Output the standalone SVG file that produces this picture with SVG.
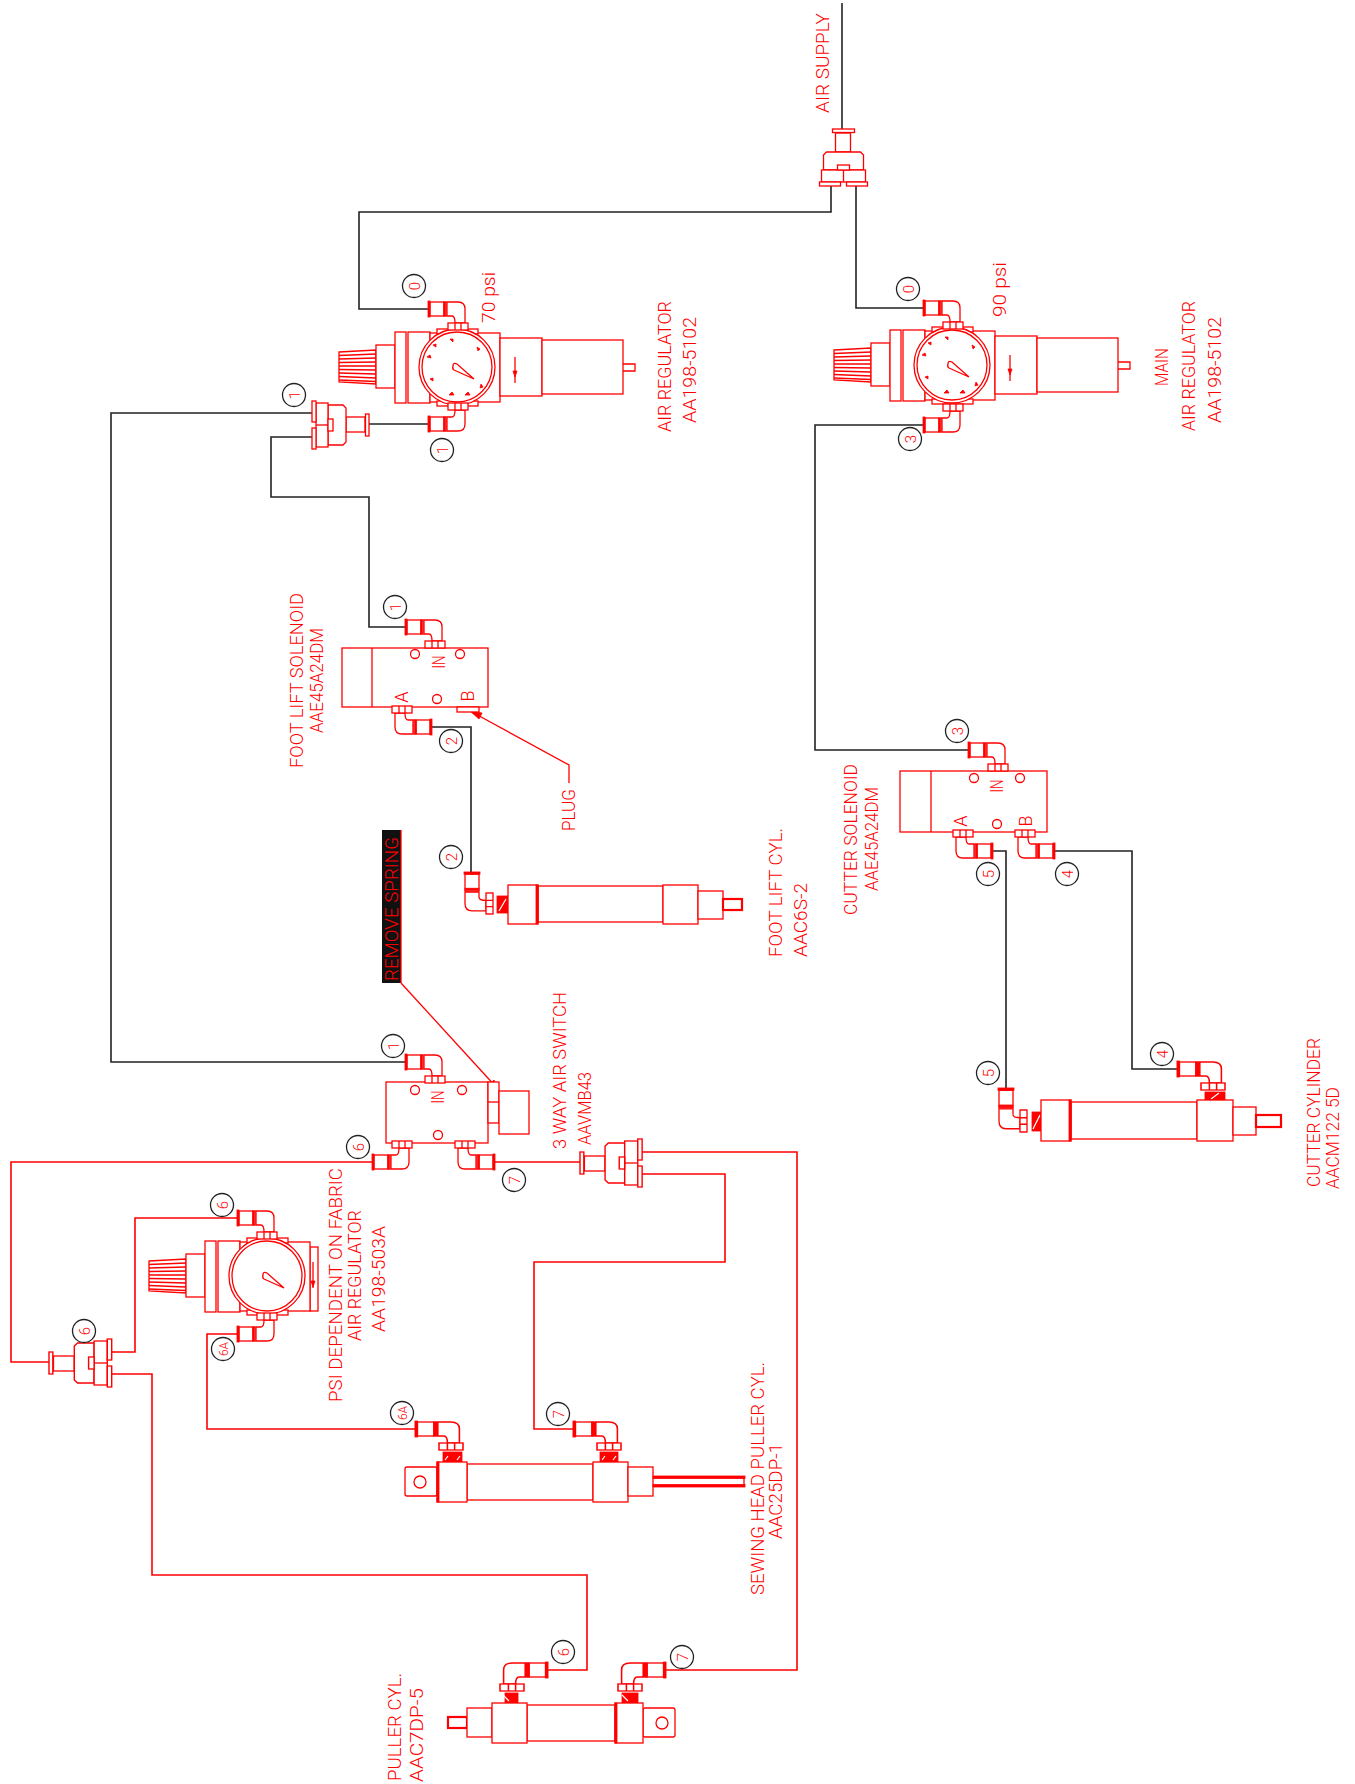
<svg xmlns="http://www.w3.org/2000/svg" xmlns:xlink="http://www.w3.org/1999/xlink" width="1355" height="1784" viewBox="0 0 1355 1784">
<style>
.r{fill:none;stroke:#f00;stroke-width:1.3}
.w{fill:#fff;stroke:#f00;stroke-width:1.3}
.h{fill:#fff;stroke:#f00;stroke-width:2.2}
.f{fill:#f00;stroke:#f00;stroke-width:.8}
.d{fill:none;stroke:#fff;stroke-width:1.2}
.k{fill:none;stroke:#222;stroke-width:1.6}
.c{fill:none;stroke:#f00;stroke-width:1.6}
.b{fill:#fff;stroke:#222;stroke-width:1.3}
text{font-family:Roboto,"Liberation Sans",Arial,sans-serif;font-weight:300;fill:#f00}
.t{font-size:18px}
.n{font-size:15px;text-anchor:middle}
.m{font-size:12px;text-anchor:middle}
.s{font-size:18px;text-anchor:middle}
</style>
<defs>
<g id="elbow">
<path class="w" d="M19,-7H30Q37,-7 37,0V14H27Q27,7 24,7H19Z"/>
<rect class="w" x="20" y="14" width="20" height="7"/>
<path class="r" d="M27,14V21M33,14V21"/>
<rect class="w" x="2" y="-7" width="16" height="14"/>
<rect class="f" x="0" y="-8" width="2" height="16"/>
<rect class="f" x="15.5" y="-7" width="1.6" height="14"/>
</g>
<g id="tee">
<rect class="w" x="-8" y="4" width="15" height="19"/>
<rect class="w" x="-11" y="0" width="22" height="3.5"/>
<path class="w" d="M-17,23H17L20,26V41H-20V26Z"/>
<rect class="w" x="-22" y="41" width="44" height="12"/>
<path class="r" d="M0,41V53"/>
<rect class="w" x="-6" y="36" width="12" height="5"/>
<rect class="w" x="-24" y="53" width="21" height="4"/>
<rect class="w" x="3" y="53" width="21" height="4"/>
</g>
<g id="reghead">
<path class="w" d="M-118,-15L-81,-17V17L-118,15Z"/>
<path class="r" d="M-118,-11.500L-81,-13M-118,-8L-81,-9M-118,-4.500L-81,-5M-118,-1L-81,-1M-118,2.500L-81,3M-118,6L-81,7M-118,9.500L-81,11M-118,13L-81,14.500"/>
<rect class="w" x="-81" y="-22" width="19" height="43"/>
<rect class="w" x="-62" y="-35" width="11" height="71"/>
<rect class="w" x="-49" y="-35" width="22" height="71"/>
<rect class="w" x="-27" y="-34" width="70" height="69"/>
<rect class="w" x="-20" y="-38" width="41" height="5"/>
<rect class="w" x="-20" y="34" width="41" height="5"/>
<circle class="w" cx="0" cy="0" r="38"/>
<circle class="w" cx="0" cy="0" r="35"/>
<path class="r" d="M-4,-1Q-4,-5 0,-3L17,12L-3,3Q-5,2 -4,-1Z"/>
</g>
<g id="regticks">
<path class="f" d="M-30,-10l3,-2l1,3zM-24,-22l3,-1l0,3zM-7,-28l3,0l0,3zM20,-20l3,2l-2,2zM24,17l2,3l-3,1zM-27,12l3,-1l0,3zM-8,28l3,-3l2,3zM8,28l3,-3l2,3z"/>
</g>
<g id="bowl">
<rect class="w" x="43" y="-29" width="42" height="58"/>
<rect class="w" x="85" y="-27" width="81" height="54"/>
<path class="r" d="M166,-3H178V4H166"/>
<path class="r" d="M58,-10V16"/>
<path class="f" d="M56,4H60L58,10Z"/>
</g>
</defs>

<g id="connectors">
<path class="k" d="M842,3V129"/>
<path class="k" d="M831,186V212H359V309H428"/>
<path class="k" d="M856,186V308H923"/>
<path class="k" d="M923,425H815V750H968"/>
<path class="k" d="M369,424H428"/>
<path class="k" d="M312,413H111V1062H405"/>
<path class="k" d="M312,437H271V497H369V627H405"/>
<path class="k" d="M432,727H471V872"/>
<path class="k" d="M993,851H1006V1088"/>
<path class="k" d="M1055,851H1132V1069H1177"/>
<path class="c" d="M372,1162H11V1362H49"/>
<path class="c" d="M495,1162H580"/>
<path class="c" d="M642,1152H797V1670H666"/>
<path class="c" d="M642,1174H725V1262H534V1429H573"/>
<path class="c" d="M112,1352H135V1218H237"/>
<path class="c" d="M112,1374H152V1575H587V1670H548"/>
<path class="c" d="M237,1334H207V1429H415"/>
<path class="r" d="M401,983L497,1088"/>
<path class="f" d="M498,1090L489,1085L494,1080Z"/>
<path class="r" d="M569,783V765L472,712"/>
<path class="f" d="M470,711L482,713L479,719Z"/>
</g>

<g id="air-supply-tee"><use href="#tee" transform="translate(843.5,129)"/></g>

<g id="air-regulator-70">
<use href="#reghead" transform="translate(457,367)"/><use href="#regticks" transform="translate(457,367)"/><use href="#bowl" transform="translate(457,367)"/>
<use href="#elbow" transform="translate(428,309)"/>
<use href="#elbow" transform="translate(428,424) scale(1,-1)"/>
</g>
<g id="main-air-regulator">
<use href="#reghead" transform="translate(952,365)"/><use href="#regticks" transform="translate(952,365)"/><use href="#bowl" transform="translate(952,365)"/>
<use href="#elbow" transform="translate(923,308)"/>
<use href="#elbow" transform="translate(923,425) scale(1,-1)"/>
</g>
<g id="psi-regulator">
<rect class="w" x="310" y="1247" width="8" height="64"/>
<path class="r" d="M313,1262V1288"/><path class="f" d="M311,1281H315L313,1287Z"/>
<use href="#reghead" transform="translate(267,1276)"/>
<use href="#elbow" transform="translate(237,1218)"/>
<use href="#elbow" transform="translate(237,1334) scale(1,-1)"/>
</g>
<g id="tee-foot"><use href="#tee" transform="translate(369,425) rotate(90)"/></g>
<g id="tee-switch"><use href="#tee" transform="translate(580,1163) rotate(-90) scale(1,1.09)"/></g>
<g id="tee-six"><use href="#tee" transform="translate(49,1363) rotate(-90) scale(1,1.1)"/></g>

<g id="foot-lift-solenoid">
<rect class="w" x="342" y="648" width="146" height="59"/>
<path class="r" d="M372,648V707"/>
<circle class="r" cx="415" cy="654" r="4.5"/><circle class="r" cx="460" cy="654" r="4.5"/><circle class="r" cx="437" cy="699" r="4.5"/>
<text class="s" transform="translate(445,662) rotate(-90)" textLength="13" lengthAdjust="spacingAndGlyphs">IN</text>
<text class="s" transform="translate(408,697) rotate(-90)">A</text>
<text class="s" transform="translate(474,696) rotate(-90)">B</text>
<rect class="w" x="457" y="707" width="22" height="5"/>
<use href="#elbow" transform="translate(405,627)"/>
<use href="#elbow" transform="translate(432,727) scale(-1,-1)"/>
</g>
<g id="cutter-solenoid">
<rect class="w" x="900" y="771" width="147" height="61"/>
<path class="r" d="M931,771V832"/>
<circle class="r" cx="974" cy="778" r="4.5"/><circle class="r" cx="1020" cy="778" r="4.5"/><circle class="r" cx="997" cy="824" r="4.5"/>
<text class="s" transform="translate(1003,786) rotate(-90)" textLength="13" lengthAdjust="spacingAndGlyphs">IN</text>
<text class="s" transform="translate(967,821) rotate(-90)">A</text>
<text class="s" transform="translate(1032,821) rotate(-90)">B</text>
<use href="#elbow" transform="translate(968,750)"/>
<use href="#elbow" transform="translate(993,851) scale(-1,-1)"/>
<use href="#elbow" transform="translate(1055,851) scale(-1,-1)"/>
</g>
<g id="three-way-switch">
<rect class="w" x="386" y="1082" width="102" height="61"/>
<circle class="r" cx="415" cy="1090" r="4.5"/><circle class="r" cx="462" cy="1090" r="4.5"/><circle class="r" cx="438" cy="1135" r="4.5"/>
<text class="s" transform="translate(444,1097) rotate(-90)" textLength="13" lengthAdjust="spacingAndGlyphs">IN</text>
<rect class="w" x="488" y="1082" width="11" height="41"/>
<path class="r" d="M488,1102H499"/>
<rect class="w" x="499" y="1091" width="30" height="43"/>
<use href="#elbow" transform="translate(405,1062)"/>
<use href="#elbow" transform="translate(372,1162) scale(1,-1)"/>
<use href="#elbow" transform="translate(495,1162) scale(-1,-1)"/>
</g>

<g id="foot-lift-cylinder">
<rect class="f" x="497" y="896" width="11" height="17"/><path class="d" d="M499,911L506,899"/>
<rect class="w" x="538" y="886" width="125" height="36"/>
<rect class="w" x="508" y="885" width="30" height="39"/>
<rect class="f" x="536" y="885" width="2" height="39"/>
<rect class="w" x="663" y="885" width="35" height="39"/>
<rect class="w" x="698" y="891" width="25" height="28"/>
<rect class="h" x="723" y="899" width="19" height="11"/>
<use href="#elbow" transform="matrix(0,1.05,1,0,472,872)"/>
</g>
<g id="cutter-cylinder">
<rect class="f" x="1032" y="1112" width="9" height="19"/><path class="d" d="M1033,1129L1040,1115"/>
<rect class="f" x="1205" y="1092" width="20" height="8"/><path class="d" d="M1211,1099L1219,1093"/>
<rect class="w" x="1071" y="1102" width="126" height="37"/>
<rect class="w" x="1041" y="1100" width="30" height="41"/>
<rect class="f" x="1069" y="1100" width="2" height="41"/>
<rect class="w" x="1197" y="1100" width="36" height="41"/>
<rect class="w" x="1233" y="1107" width="23" height="28"/>
<rect class="h" x="1256" y="1115" width="25" height="12"/>
<use href="#elbow" transform="matrix(0,1.1,1,0,1006,1088)"/>
<use href="#elbow" transform="matrix(1.2,0,0,1,1177,1069)"/>
</g>
<g id="sewing-head-puller-cylinder">
<rect class="f" x="443" y="1452" width="19" height="10"/><path class="d" d="M445,1460L448,1456M457,1460L460,1456"/>
<rect class="f" x="600" y="1452" width="18" height="10"/><path class="d" d="M602,1460L605,1456M613,1460L616,1456"/>
<rect class="w" x="405" y="1467" width="32" height="29" rx="2"/>
<circle class="r" cx="420" cy="1482" r="6"/>
<rect class="w" x="467" y="1464" width="126" height="36"/>
<rect class="w" x="437" y="1462" width="30" height="40"/>
<rect class="f" x="437" y="1462" width="2" height="40"/>
<rect class="w" x="593" y="1462" width="35" height="40"/>
<rect class="w" x="628" y="1467" width="25" height="29"/>
<rect class="f" x="653" y="1476" width="92" height="2.500"/>
<rect class="f" x="653" y="1484.500" width="92" height="2.500"/>
<path class="r" d="M744,1476V1487"/>
<use href="#elbow" transform="matrix(1.2,0,0,1,415,1429)"/>
<use href="#elbow" transform="matrix(1.2,0,0,1,573,1429)"/>
</g>
<g id="puller-cylinder">
<rect class="f" x="505" y="1693" width="13" height="10"/><path class="d" d="M503,1695L509,1701"/>
<rect class="f" x="622" y="1693" width="16" height="10"/><path class="d" d="M622,1695L628,1701"/>
<rect class="h" x="448" y="1717" width="19" height="11"/>
<rect class="w" x="467" y="1708" width="25" height="29"/>
<rect class="w" x="527" y="1705" width="88" height="36"/>
<rect class="w" x="492" y="1703" width="35" height="40"/>
<rect class="w" x="643" y="1708" width="32" height="29" rx="2"/>
<circle class="r" cx="662" cy="1723" r="6"/>
<rect class="w" x="615" y="1703" width="28" height="40"/>
<rect class="f" x="615" y="1703" width="2" height="40"/>
<use href="#elbow" transform="matrix(-1.2,0,0,1,548,1670)"/>
<use href="#elbow" transform="matrix(-1.2,0,0,1,666,1670)"/>
</g>

<g id="balloons">
<g id="b01"><circle class="b" cx="414" cy="286" r="11.5"/><text class="n" transform="translate(419.500,286) rotate(-90)">0</text></g>
<g id="b02"><circle class="b" cx="442" cy="450" r="11.5"/><text class="n" transform="translate(447.500,450) rotate(-90)">1</text></g>
<g id="b03"><circle class="b" cx="908" cy="289" r="11.5"/><text class="n" transform="translate(913.500,289) rotate(-90)">0</text></g>
<g id="b04"><circle class="b" cx="910" cy="439" r="11.5"/><text class="n" transform="translate(915.500,439) rotate(-90)">3</text></g>
<g id="b05"><circle class="b" cx="294" cy="395" r="11.5"/><text class="n" transform="translate(299.500,395) rotate(-90)">1</text></g>
<g id="b06"><circle class="b" cx="395" cy="607" r="11.5"/><text class="n" transform="translate(400.500,607) rotate(-90)">1</text></g>
<g id="b07"><circle class="b" cx="451" cy="741" r="11.5"/><text class="n" transform="translate(456.500,741) rotate(-90)">2</text></g>
<g id="b08"><circle class="b" cx="451" cy="857" r="11.5"/><text class="n" transform="translate(456.500,857) rotate(-90)">2</text></g>
<g id="b09"><circle class="b" cx="957" cy="731" r="11.5"/><text class="n" transform="translate(962.500,731) rotate(-90)">3</text></g>
<g id="b10"><circle class="b" cx="988" cy="874" r="11.5"/><text class="n" transform="translate(993.500,874) rotate(-90)">5</text></g>
<g id="b11"><circle class="b" cx="1067" cy="874" r="11.5"/><text class="n" transform="translate(1072.500,874) rotate(-90)">4</text></g>
<g id="b12"><circle class="b" cx="1162" cy="1054" r="11.5"/><text class="n" transform="translate(1167.500,1054) rotate(-90)">4</text></g>
<g id="b13"><circle class="b" cx="988" cy="1073" r="11.5"/><text class="n" transform="translate(993.500,1073) rotate(-90)">5</text></g>
<g id="b14"><circle class="b" cx="393" cy="1046" r="11.5"/><text class="n" transform="translate(398.500,1046) rotate(-90)">1</text></g>
<g id="b15"><circle class="b" cx="358" cy="1147" r="11.5"/><text class="n" transform="translate(363.500,1147) rotate(-90)">6</text></g>
<g id="b16"><circle class="b" cx="514" cy="1180" r="11.5"/><text class="n" transform="translate(519.500,1180) rotate(-90)">7</text></g>
<g id="b17"><circle class="b" cx="222" cy="1205" r="11.5"/><text class="n" transform="translate(227.500,1205) rotate(-90)">6</text></g>
<g id="b18"><circle class="b" cx="84" cy="1331" r="11.5"/><text class="n" transform="translate(89.500,1331) rotate(-90)">6</text></g>
<g id="b19"><circle class="b" cx="223" cy="1349" r="11.5"/><text class="m" transform="translate(227.500,1349) rotate(-90)">6A</text></g>
<g id="b20"><circle class="b" cx="402" cy="1413" r="11.5"/><text class="m" transform="translate(406.500,1413) rotate(-90)">6A</text></g>
<g id="b21"><circle class="b" cx="558" cy="1414" r="11.5"/><text class="n" transform="translate(563.500,1414) rotate(-90)">7</text></g>
<g id="b22"><circle class="b" cx="563" cy="1652" r="11.5"/><text class="n" transform="translate(568.500,1652) rotate(-90)">6</text></g>
<g id="b23"><circle class="b" cx="682" cy="1657" r="11.5"/><text class="n" transform="translate(687.500,1657) rotate(-90)">7</text></g>
</g>

<g id="remove-spring">
<rect x="382" y="830" width="19" height="153" fill="#111"/>
<path class="r" d="M401,830V983"/>
<text class="t" transform="translate(398,981) rotate(-90)" textLength="144" lengthAdjust="spacingAndGlyphs">REMOVE SPRING</text>
</g>
<g id="labels">
<text class="t" transform="translate(829,113) rotate(-90)" textLength="100" lengthAdjust="spacingAndGlyphs">AIR SUPPLY</text>
<text class="t" transform="translate(495,323) rotate(-90)" textLength="51" lengthAdjust="spacingAndGlyphs">70 psi</text>
<text class="t" transform="translate(671,432) rotate(-90)" textLength="131" lengthAdjust="spacingAndGlyphs">AIR REGULATOR</text>
<text class="t" transform="translate(696,423) rotate(-90)" textLength="106" lengthAdjust="spacingAndGlyphs">AA198-5102</text>
<text class="t" transform="translate(1006,317) rotate(-90)" textLength="55" lengthAdjust="spacingAndGlyphs">90 psi</text>
<text class="t" transform="translate(1168,386) rotate(-90)" textLength="38" lengthAdjust="spacingAndGlyphs">MAIN</text>
<text class="t" transform="translate(1195,431) rotate(-90)" textLength="130" lengthAdjust="spacingAndGlyphs">AIR REGULATOR</text>
<text class="t" transform="translate(1221,423) rotate(-90)" textLength="106" lengthAdjust="spacingAndGlyphs">AA198-5102</text>
<text class="t" transform="translate(303,768) rotate(-90)" textLength="175" lengthAdjust="spacingAndGlyphs">FOOT LIFT SOLENOID</text>
<text class="t" transform="translate(323,733) rotate(-90)" textLength="105" lengthAdjust="spacingAndGlyphs">AAE45A24DM</text>
<text class="t" transform="translate(575,831) rotate(-90)" textLength="42" lengthAdjust="spacingAndGlyphs">PLUG</text>
<text class="t" transform="translate(782,957) rotate(-90)" textLength="129" lengthAdjust="spacingAndGlyphs">FOOT LIFT CYL.</text>
<text class="t" transform="translate(807,957) rotate(-90)" textLength="74" lengthAdjust="spacingAndGlyphs">AAC6S-2</text>
<text class="t" transform="translate(857,915) rotate(-90)" textLength="151" lengthAdjust="spacingAndGlyphs">CUTTER SOLENOID</text>
<text class="t" transform="translate(878,891) rotate(-90)" textLength="104" lengthAdjust="spacingAndGlyphs">AAE45A24DM</text>
<text class="t" transform="translate(1320,1187) rotate(-90)" textLength="149" lengthAdjust="spacingAndGlyphs">CUTTER CYLINDER</text>
<text class="t" transform="translate(1339,1189) rotate(-90)" textLength="102" lengthAdjust="spacingAndGlyphs">AACM122 5D</text>
<text class="t" transform="translate(566,1149) rotate(-90)" textLength="157" lengthAdjust="spacingAndGlyphs">3 WAY AIR SWITCH</text>
<text class="t" transform="translate(591,1145) rotate(-90)" textLength="73" lengthAdjust="spacingAndGlyphs">AAVMB43</text>
<text class="t" transform="translate(342,1402) rotate(-90)" textLength="234" lengthAdjust="spacingAndGlyphs">PSI DEPENDENT ON FABRIC</text>
<text class="t" transform="translate(361,1341) rotate(-90)" textLength="131" lengthAdjust="spacingAndGlyphs">AIR REGULATOR</text>
<text class="t" transform="translate(385,1332) rotate(-90)" textLength="106" lengthAdjust="spacingAndGlyphs">AA198-503A</text>
<text class="t" transform="translate(764,1595) rotate(-90)" textLength="233" lengthAdjust="spacingAndGlyphs">SEWING HEAD PULLER CYL.</text>
<text class="t" transform="translate(782,1539) rotate(-90)" textLength="96" lengthAdjust="spacingAndGlyphs">AAC25DP-1</text>
<text class="t" transform="translate(401,1781) rotate(-90)" textLength="108" lengthAdjust="spacingAndGlyphs">PULLER CYL.</text>
<text class="t" transform="translate(423,1782) rotate(-90)" textLength="94" lengthAdjust="spacingAndGlyphs">AAC7DP-5</text>
</g>
</svg>
